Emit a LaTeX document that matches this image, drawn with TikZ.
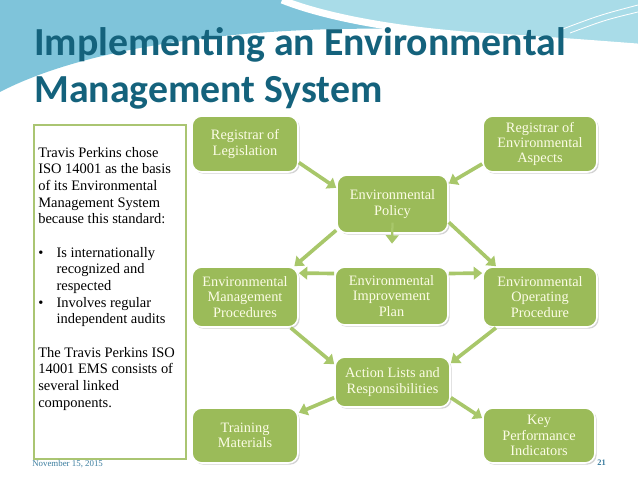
\documentclass[tikz,border=0pt]{standalone}
\usepackage{fontspec}
\setmainfont{Liberation Serif}
\newfontfamily\titlefont{Carlito}
\usetikzlibrary{arrows.meta,shadows}

\definecolor{boxgreen}{HTML}{9BBB59}
\definecolor{linkgreen}{HTML}{A8C76A}
\definecolor{boxtext}{HTML}{FCFCE6}
\definecolor{titleblue}{HTML}{14627C}
\definecolor{footblue}{HTML}{3A7C9E}
\definecolor{skyblue}{HTML}{7FC4DA}
\definecolor{paleblue}{HTML}{A9DCE8}

\begin{document}
\begin{tikzpicture}[
    x=0.025cm, y=-0.025cm,
    >={Triangle[width=9pt,length=6pt]},
    % component boxes of the EMS
    comp/.style={draw=white, line width=1.2pt, rounded corners=7pt, fill=boxgreen,
      text=boxtext, align=center, inner sep=1pt,
      font=\fontsize{10.2}{11}\selectfont,
      drop shadow={opacity=0.35, shadow xshift=1.2pt, shadow yshift=-1.2pt}},
    boxsize/.style 2 args={minimum width=#1*0.025cm, minimum height=#2*0.025cm},
    link/.style={->, line width=2.6pt, draw=linkgreen},
    title/.style={font=\titlefont\bfseries\fontsize{28.3}{34}\selectfont, text=titleblue,
      align=left, anchor=base west, inner sep=0pt},
    foot/.style={text=footblue, inner sep=0pt, anchor=base west}
  ]

  % fixed frame of the slide, 638 x 479 px
  \useasboundingbox (0,0) rectangle (638,479);

  % ---------------------------------------------------------
  % BACKGROUND SWOOSH
  % ---------------------------------------------------------
  \fill[skyblue] (0,0) -- (638,0) -- (638,44)
    .. controls (560,38) and (470,30) .. (400,29)
    .. controls (250,26) and (90,45) .. (0,92) -- cycle;
  \fill[paleblue] (290,0) .. controls (340,20) and (430,34) .. (530,38)
    -- (638,44) -- (638,0) -- cycle;
  \draw[white, line width=5pt] (282,0) .. controls (335,21) and (425,35) .. (530,39);
  \draw[white, line width=2pt] (0,97) .. controls (90,50) and (250,28) .. (400,31)
    .. controls (480,33) and (560,39) .. (638,45);
  \draw[white, line width=0.6pt] (560,30) .. controls (600,15) .. (638,5);
  \draw[white, line width=0.6pt] (570,33) .. controls (605,20) .. (638,12);

  % ---------------------------------------------------------
  % TITLE (base = baseline of the last line)
  % ---------------------------------------------------------
  \node[title] (head) at (34,103) {Implementing an Environmental\\Management System};

  % ---------------------------------------------------------
  % LEFT TEXT PANEL
  % ---------------------------------------------------------
  \node[draw=boxgreen!85!white, line width=1.4pt, fill=white, minimum width=152*0.025cm,
    minimum height=334*0.025cm, anchor=north west, inner sep=0pt] (panel) at (33,124) {};
  \node[anchor=north west, align=left, inner sep=0pt,
    font=\fontsize{10.3}{11.85}\selectfont] (notes) at (38,147) {%
    Travis Perkins chose\\
    ISO 14001 as the basis\\
    of its Environmental\\
    Management System\\
    because this standard:\\[11.85pt]
    \makebox[13pt][l]{\textbullet}Is internationally\\
    \hspace*{13pt}recognized and\\
    \hspace*{13pt}respected\\
    \makebox[13pt][l]{\textbullet}Involves regular\\
    \hspace*{13pt}independent audits\\[11.85pt]
    The Travis Perkins ISO\\
    14001 EMS consists of\\
    several linked\\
    components.};

  % ---------------------------------------------------------
  % COMPONENTS
  % ---------------------------------------------------------
  \node[comp, boxsize={106}{56}] (leg) at (245,144) {Registrar of\\Legislation};
  \node[comp, boxsize={114}{56}] (asp) at (540,144) {Registrar of\\Environmental\\Aspects};
  \node[comp, boxsize={111}{58}] (pol) at (392.5,204) {Environmental\\Policy};
  \node[comp, boxsize={106}{60}] (emp) at (245,297) {Environmental\\Management\\Procedures};
  \node[comp, boxsize={113}{58}] (eip) at (391.5,296) {Environmental\\Improvement\\Plan};
  \node[comp, boxsize={114}{60}] (eop) at (540,297) {Environmental\\Operating\\Procedure};
  \node[comp, boxsize={115}{50}] (act) at (392.5,382) {Action Lists and\\Responsibilities};
  \node[comp, boxsize={106}{55}] (trm) at (245,435.5) {Training\\Materials};
  \node[comp, boxsize={112}{55}] (kpi) at (539,435.5) {Key\\Performance\\Indicators};

  % ---------------------------------------------------------
  % LINKS
  % ---------------------------------------------------------
  \draw[link] (leg.-19) -- (pol.164);
  \draw[link] (asp.199) -- (pol.20);
  \draw[link] (pol.205) -- (emp.32);
  \draw[link] (pol.-18) -- (eop.145);
  \draw[link, line width=1.6pt, shorten >=16pt] ([yshift=8pt]pol.south) -- (eip.north);
  \draw[link] ([yshift=16pt]eip.west) -- ([yshift=17pt]emp.east);
  \draw[link] ([yshift=16pt]eip.east) -- ([yshift=17pt]eop.west);
  \draw[link] (emp.-34) -- (act.163);
  \draw[link] (eop.215) -- (act.18);
  \draw[link] (act.195) -- (trm.23);
  \draw[link] (act.-15) -- (kpi.163);

  % ---------------------------------------------------------
  % FOOTER
  % ---------------------------------------------------------
  \node[foot, font=\fontsize{6.3}{7}\selectfont] (date) at (32,466) {November 15, 2015};
  \node[foot, font=\bfseries\fontsize{6}{7}\selectfont] (page) at (597,465) {21};

\end{tikzpicture}
\end{document}
